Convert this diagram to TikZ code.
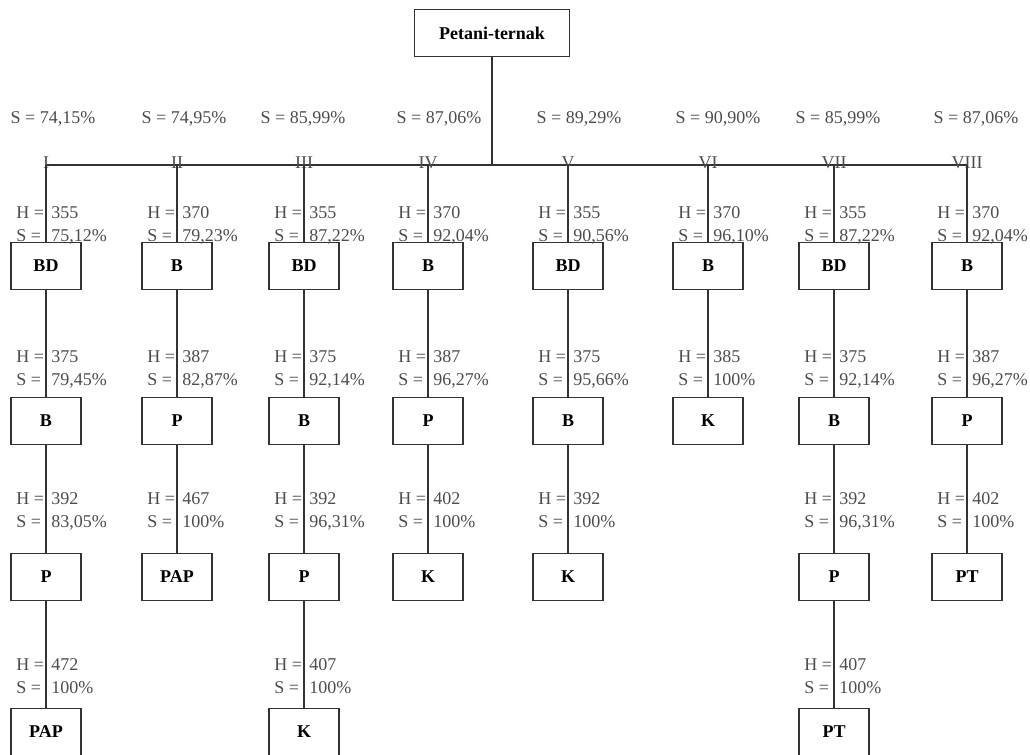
\documentclass[tikz,border=0pt]{standalone}
\usepackage{fontspec}
\setmainfont{Liberation Serif}
% H / S values beside a connector: name, x of line, baseline of H, H, S
\newcommand{\hslabel}[5]{%
	\node[lbl] (#1h) at (#2-30,#3) {H =};
	\node[lbl] (#1hv) at (#2+5,#3) {#4};
	\node[lbl] (#1s) at (#2-30,#3+23) {S =};
	\node[lbl] (#1sv) at (#2+5,#3+23) {#5};}
\begin{document}
\begin{tikzpicture}[x=0.75pt,y=-0.75pt,
	every node/.style={font=\fontsize{13.5}{16}\selectfont,text=black!70},
	box/.style={draw=black!80,line width=1pt,minimum width=52.5pt,minimum height=35pt,
		text=black,font=\fontsize{13.5}{16}\selectfont\bfseries},
	lbl/.style={inner sep=0pt,anchor=base west},
	top/.style={inner sep=0pt,anchor=base},
	conn/.style={draw=black!80,line width=1pt}]
	\useasboundingbox (0,0) rectangle (1030,754);
	% root and bus
	\node[box,minimum width=116pt] (root) at (492,33) {Petani-ternak};
	\coordinate (bus) at (492,165);
	\coordinate (tI) at (46,165);
	\coordinate (tII) at (177,165);
	\coordinate (tIII) at (304,165);
	\coordinate (tIV) at (428,165);
	\coordinate (tV) at (568,165);
	\coordinate (tVI) at (708,165);
	\coordinate (tVII) at (834,165);
	\coordinate (tVIII) at (967,165);
	\draw[conn] (root) -- (bus);
	\draw[conn] (tI) -- (tVIII);
	% roman numerals on the bus
	\node[top] (rI) at (46,168) {I};
	\node[top] (rII) at (177,168) {II};
	\node[top] (rIII) at (304,168) {III};
	\node[top] (rIV) at (428,168) {IV};
	\node[top] (rV) at (568,168) {V};
	\node[top] (rVI) at (708,168) {VI};
	\node[top] (rVII) at (834,168) {VII};
	\node[top] (rVIII) at (967,168) {VIII};
	% S per route
	\node[top] (sI) at (53,123) {S = 74,15\%};
	\node[top] (sII) at (184,123) {S = 74,95\%};
	\node[top] (sIII) at (303,123) {S = 85,99\%};
	\node[top] (sIV) at (439,123) {S = 87,06\%};
	\node[top] (sV) at (579,123) {S = 89,29\%};
	\node[top] (sVI) at (718,123) {S = 90,90\%};
	\node[top] (sVII) at (838,123) {S = 85,99\%};
	\node[top] (sVIII) at (976,123) {S = 87,06\%};
	% route I
	\node[box] (a1) at (46,266) {BD};
	\node[box] (a2) at (46,421) {B};
	\node[box] (a3) at (46,577) {P};
	\node[box] (a4) at (46,732) {PAP};
	\draw[conn] (tI) -- (a1) -- (a2) -- (a3) -- (a4);
	\hslabel{a1}{46}{218}{355}{75,12\%}
	\hslabel{a2}{46}{362}{375}{79,45\%}
	\hslabel{a3}{46}{504}{392}{83,05\%}
	\hslabel{a4}{46}{670}{472}{100\%}
	% route II
	\node[box] (b1) at (177,266) {B};
	\node[box] (b2) at (177,421) {P};
	\node[box] (b3) at (177,577) {PAP};
	\draw[conn] (tII) -- (b1) -- (b2) -- (b3);
	\hslabel{b1}{177}{218}{370}{79,23\%}
	\hslabel{b2}{177}{362}{387}{82,87\%}
	\hslabel{b3}{177}{504}{467}{100\%}
	% route III
	\node[box] (c1) at (304,266) {BD};
	\node[box] (c2) at (304,421) {B};
	\node[box] (c3) at (304,577) {P};
	\node[box] (c4) at (304,732) {K};
	\draw[conn] (tIII) -- (c1) -- (c2) -- (c3) -- (c4);
	\hslabel{c1}{304}{218}{355}{87,22\%}
	\hslabel{c2}{304}{362}{375}{92,14\%}
	\hslabel{c3}{304}{504}{392}{96,31\%}
	\hslabel{c4}{304}{670}{407}{100\%}
	% route IV
	\node[box] (d1) at (428,266) {B};
	\node[box] (d2) at (428,421) {P};
	\node[box] (d3) at (428,577) {K};
	\draw[conn] (tIV) -- (d1) -- (d2) -- (d3);
	\hslabel{d1}{428}{218}{370}{92,04\%}
	\hslabel{d2}{428}{362}{387}{96,27\%}
	\hslabel{d3}{428}{504}{402}{100\%}
	% route V
	\node[box] (e1) at (568,266) {BD};
	\node[box] (e2) at (568,421) {B};
	\node[box] (e3) at (568,577) {K};
	\draw[conn] (tV) -- (e1) -- (e2) -- (e3);
	\hslabel{e1}{568}{218}{355}{90,56\%}
	\hslabel{e2}{568}{362}{375}{95,66\%}
	\hslabel{e3}{568}{504}{392}{100\%}
	% route VI
	\node[box] (f1) at (708,266) {B};
	\node[box] (f2) at (708,421) {K};
	\draw[conn] (tVI) -- (f1) -- (f2);
	\hslabel{f1}{708}{218}{370}{96,10\%}
	\hslabel{f2}{708}{362}{385}{100\%}
	% route VII
	\node[box] (g1) at (834,266) {BD};
	\node[box] (g2) at (834,421) {B};
	\node[box] (g3) at (834,577) {P};
	\node[box] (g4) at (834,732) {PT};
	\draw[conn] (tVII) -- (g1) -- (g2) -- (g3) -- (g4);
	\hslabel{g1}{834}{218}{355}{87,22\%}
	\hslabel{g2}{834}{362}{375}{92,14\%}
	\hslabel{g3}{834}{504}{392}{96,31\%}
	\hslabel{g4}{834}{670}{407}{100\%}
	% route VIII
	\node[box] (h1) at (967,266) {B};
	\node[box] (h2) at (967,421) {P};
	\node[box] (h3) at (967,577) {PT};
	\draw[conn] (tVIII) -- (h1) -- (h2) -- (h3);
	\hslabel{h1}{967}{218}{370}{92,04\%}
	\hslabel{h2}{967}{362}{387}{96,27\%}
	\hslabel{h3}{967}{504}{402}{100\%}
\end{tikzpicture}
\end{document}
